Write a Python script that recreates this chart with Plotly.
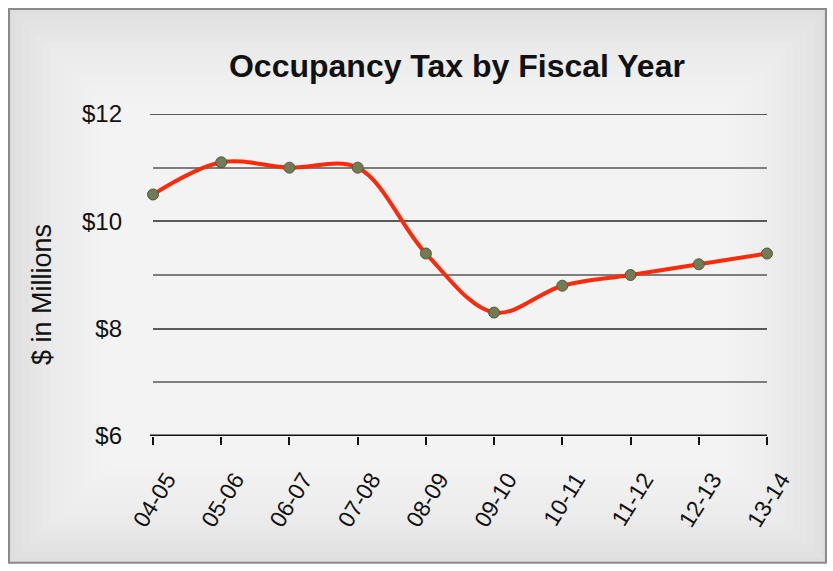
import plotly.graph_objects as go

# Fiscal years and occupancy tax receipts ($ millions)
fiscal_years = ["04-05", "05-06", "06-07", "07-08", "08-09",
                "09-10", "10-11", "11-12", "12-13", "13-14"]
tax_millions = [10.5, 11.1, 11.0, 11.0, 9.4, 8.3, 8.8, 9.0, 9.2, 9.4]

y_tick_vals = [6, 8, 10, 12]
y_tick_text = ["$6", "$8", "$10", "$12"]

FONT = "Liberation Sans, Arial, Helvetica, sans-serif"

fig = go.Figure()
fig.add_trace(go.Scatter(
    x=list(range(len(fiscal_years))),
    y=tax_millions,
    mode="lines+markers",
    line=dict(color="#ff2a0a", width=4, shape="spline", smoothing=1.0),
    marker=dict(size=11, color="#737b55", line=dict(color="#55583c", width=1)),
    cliponaxis=False,
    hoverinfo="skip",
))

# Framed gray panel, brightening smoothly toward the middle
shapes = [dict(type="rect", xref="paper", yref="paper",
               x0=-0.2345, x1=1.096, y0=-0.394, y1=1.326,
               fillcolor="#dedede", line=dict(color="#8a8a8a", width=2),
               layer="below")]
steps = 14
for i in range(steps):
    f = i / steps
    shapes.append(dict(type="rect", xref="paper", yref="paper",
                       x0=-0.225 + 0.16 * f, x1=1.088 - 0.16 * f,
                       y0=-0.38 + 0.30 * f, y1=1.31 - 0.30 * f,
                       fillcolor="rgba(255,255,255,0.09)", line=dict(width=0),
                       layer="below"))

# Gridline along the $12 top edge and black baseline at $6
shapes.append(dict(type="line", xref="paper", yref="y",
                   x0=-0.005, x1=1, y0=12, y1=12,
                   line=dict(color="#5a5a5a", width=2)))
shapes.append(dict(type="line", xref="paper", yref="y",
                   x0=-0.005, x1=1, y0=6, y1=6,
                   line=dict(color="#111111", width=3)))

fig.update_layout(
    width=833, height=571,
    margin=dict(l=153, r=66, t=114, b=135),
    paper_bgcolor="#ffffff",
    plot_bgcolor="rgba(0,0,0,0)",
    showlegend=False,
    shapes=shapes,
    font=dict(family=FONT, color="#111111"),
    title=dict(text="<b>Occupancy Tax by Fiscal Year</b>",
               x=0.495, xref="paper", xanchor="center",
               y=0.885, yanchor="middle",
               font=dict(family=FONT, size=32, color="#111111")),
    xaxis=dict(
        range=[0, len(fiscal_years) - 1],
        tickmode="array",
        tickvals=list(range(len(fiscal_years))),
        ticktext=fiscal_years,
        tickangle=-58,
        tickfont=dict(size=23, family=FONT, color="#111111"),
        ticks="outside", ticklen=8, tickwidth=2, tickcolor="#111111",
        ticklabelstandoff=12, ticklabelshift=14,
        showgrid=False, zeroline=False,
        showline=False,
    ),
    yaxis=dict(
        range=[6, 12],
        tickmode="array",
        tickvals=y_tick_vals,
        ticktext=y_tick_text,
        tickfont=dict(size=24, family=FONT, color="#111111"),
        ticks="", ticklabelstandoff=30,
        showgrid=True, gridcolor="#5a5a5a", gridwidth=2,
        minor=dict(dtick=1, tick0=6, showgrid=True,
                   gridcolor="#7e7e7e", gridwidth=1.5),
        zeroline=False, showline=False,
    ),
    annotations=[dict(
        text="$ in Millions", textangle=-90,
        xref="paper", yref="paper",
        x=(42 - 153) / 614, y=(436 - 295) / 322,
        xanchor="center", yanchor="middle", showarrow=False,
        font=dict(size=27, family=FONT, color="#111111"),
    )],
)

fig.write_html("out.html")
